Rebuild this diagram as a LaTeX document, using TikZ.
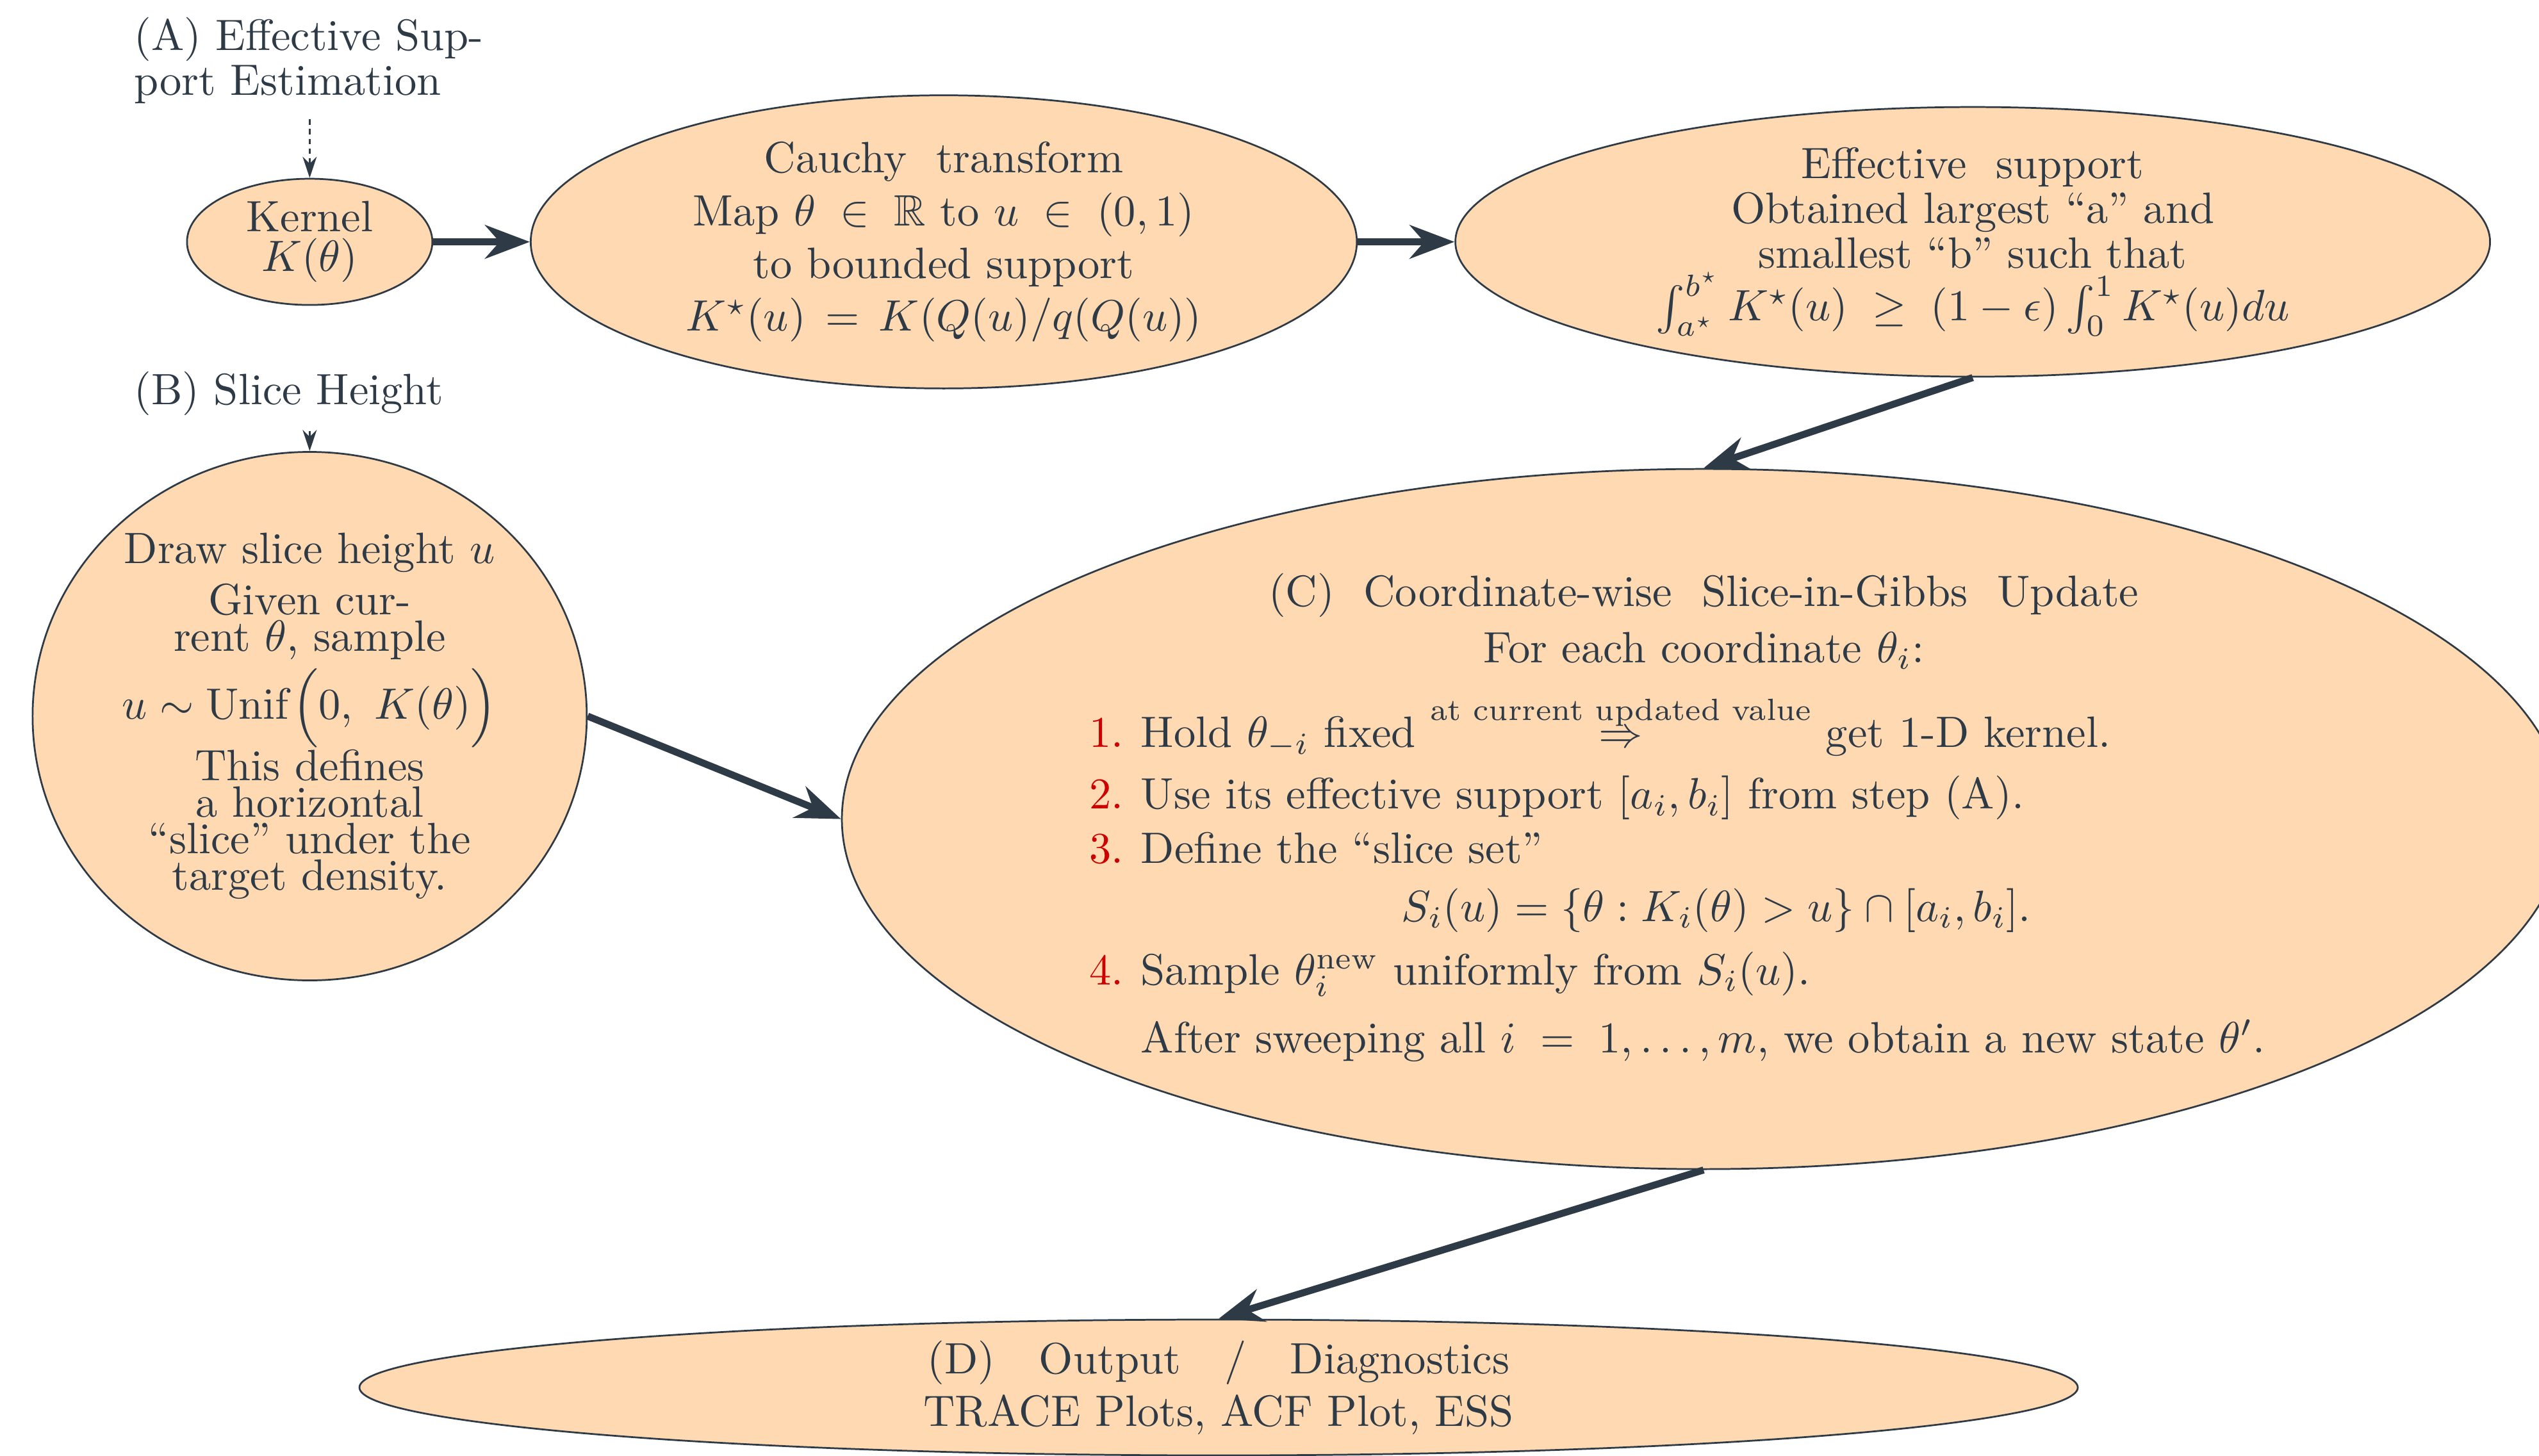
\documentclass[tikz,border=0pt]{standalone}
\usepackage{amsmath,amssymb}
\usetikzlibrary{shapes.geometric,arrows.meta}
\definecolor{slate}{HTML}{2E3B46}
\definecolor{stepred}{RGB}{204,0,0}
\newcommand{\stepno}[1]{\textcolor{stepred}{#1}}
\begin{document}
\begin{tikzpicture}[font=\fontsize{10}{12}\selectfont, line join=round, >={Stealth},
    blob/.style={ellipse, draw=slate, thin, fill=orange!30, text=slate, inner sep=0pt, align=center},
    tag/.style={text=slate, text width=80pt, align=left, font=\fontsize{10}{10.3}\selectfont},
    flow/.style={->, draw=slate, line width=1.6pt},
    hint/.style={-{Stealth[length=4.8pt,width=3.2pt]}, draw=slate, line width=0.5pt}]
  \useasboundingbox (0,0) rectangle (20.333,-11.662);
  % stage labels on the left
  \node[tag] (labA) at (2.48,-0.485) {(A) Effective Sup-\\port Estimation};
  \node[tag] (labB) at (2.48,-3.152) {(B) Slice Height};
  % top row
  \node[blob, minimum width=1.965cm, minimum height=1.011cm, font=\fontsize{10}{9}\selectfont] (kernel) at (2.48,-1.937) {Kernel\\ $K(\theta)$};
  \node[blob, minimum width=6.616cm, minimum height=2.348cm] (cauchy) at (7.558,-1.937)
    {Cauchy\ \ transform\\ Map $\theta \;\in\; \mathbb{R}$ to $u \;\in\; (0,1)$\\ to bounded support\\ $K^\star(u) \,=\, K(Q(u)/q(Q(u))$};
  \node[blob, minimum width=8.286cm, minimum height=2.16cm, font=\fontsize{10}{10.2}\selectfont] (effsup) at (15.798,-1.937)
    {Effective\ \ support\\ Obtained largest ``a'' and\\ smallest ``b'' such that\\ $\int_{a^\star}^{b^\star} K^\star(u) \;\geq\; (1-\epsilon)\int_0^1 K^\star(u)du$};
  % slice height
  \node[blob, minimum width=4.438cm, minimum height=4.233cm, font=\fontsize{10}{8.3}\selectfont] (height) at (2.48,-5.736)
    {Draw slice height $u$\\[1.5pt] Given cur-\\ rent $\theta$, sample\\[1pt] $u \sim \mathrm{Unif}\Big(0,\ K(\theta)\Big)$\\[-0.4pt]
     This defines\\ a horizontal\\ ``slice'' under the\\ target density.};
  % gibbs update
  \node[blob, minimum width=13.802cm, minimum height=5.608cm, inner xsep=-8pt, inner ysep=-2pt] (update) at (13.643,-6.56)
    {\begin{tabular}{@{}r@{\hspace{4pt}}l@{\hspace{12pt}}}
      \multicolumn{2}{@{}c@{}}{(C)\ \ Coordinate-wise\ \ Slice-in-Gibbs\ \ Update}\\[0.8pt]
      \multicolumn{2}{@{}c@{}}{For each coordinate $\theta_i$:}\\[3.8pt]
      \stepno{1.} & Hold $\theta_{-i}$ fixed $\stackrel{\text{at current updated value}}{\Rightarrow}$ get 1-D kernel.\\[2pt]
      \stepno{2.} & Use its effective support $[a_i, b_i]$ from step (A).\\[0.4pt]
      \stepno{3.} & Define the ``slice set''\\[1.2pt]
       & \multicolumn{1}{c@{\hspace{12pt}}}{$S_i(u) = \{\theta : K_i(\theta) > u\} \cap [a_i, b_i]$.}\\[2.5pt]
      \stepno{4.} & Sample $\theta_i^{\text{new}}$ uniformly from $S_i(u)$.\\[3.5pt]
       & After sweeping all $i \;=\; 1,\dots,m$, we obtain a new state $\theta'$.
    \end{tabular}};
  \node[blob, minimum width=13.761cm, minimum height=1.088cm] (output) at (9.759,-11.113)
    {(D)\ \ \ Output\ \ \ /\ \ \ Diagnostics\\ TRACE Plots, ACF Plot, ESS};
  % connectors
  \draw[hint, dash pattern=on 1.3pt off 0.9pt] (labA) -- (kernel);
  \draw[hint] (labB) -- (height);
  \foreach \a/\b in {kernel/cauchy, cauchy/effsup, effsup.south/update.north, height.east/update.west, update.south/output.north}
    \draw[flow] (\a) -- (\b);
\end{tikzpicture}
\end{document}
